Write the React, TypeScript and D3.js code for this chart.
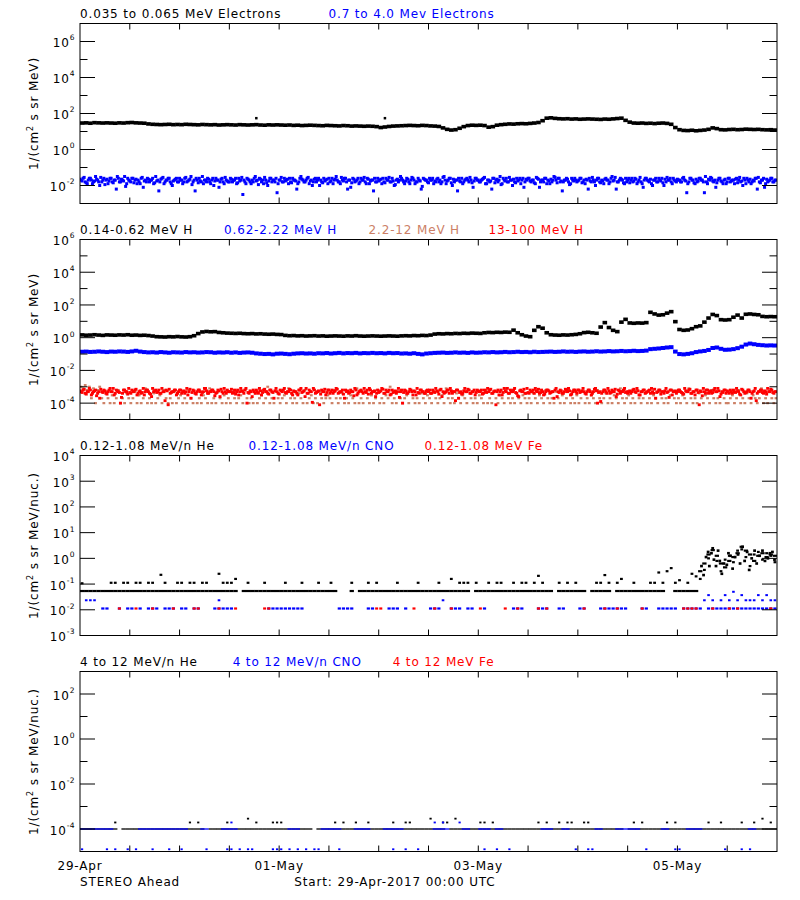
import React from "react";
import * as d3 from "d3";

// STEREO Ahead particle fluxes, 29-Apr-2017 .. 06-May-2017
// values are log10(flux); "_" marks an interval with no counts

const _ = null;

const START = new Date(Date.UTC(2017, 3, 29));
const END = new Date(Date.UTC(2017, 4, 6));

const BLACK = "#000000";
const BLUE = "#0000ff";
const RED = "#ff0000";
const SIENNA = "#cc8066";

// ---- panel 1: electrons (hourly / half-hourly) ----
const eLo = [
  1.47, 1.48, 1.46, 1.49, 1.48, 1.47, 1.48, 1.47, 1.46, 1.48, 1.47, 1.49, 1.5, 1.48, 1.47, 1.46,
  1.42, 1.4, 1.39, 1.38, 1.39, 1.4, 1.38, 1.39, 1.38, 1.4, 1.39, 1.38, 1.37, 1.39, 1.38,
  1.37, 1.38, 1.36, 1.37, 1.38, 1.37, 1.36, 1.38, 1.37, 1.36, 1.37, 1.38, 1.36, 1.35, 1.37, 1.36, 1.37, 1.36,
  1.35, 1.36, 1.34, 1.35, 1.33, 1.34, 1.35, 1.34, 1.33, 1.32, 1.34, 1.33, 1.32, 1.31, 1.33, 1.32, 1.3, 1.31, 1.3, 1.29, 1.3,
  1.29, 1.27, 1.22, 1.25, 1.28, 1.3, 1.31, 1.32,
  1.33, 1.34, 1.33, 1.32, 1.34, 1.33, 1.31, 1.3, 1.28,
  1.2, 1.12, 1.08, 1.1, 1.18, 1.27,
  1.33, 1.35, 1.34, 1.35, 1.33,
  1.24, 1.27,
  1.35, 1.38, 1.4, 1.42, 1.41, 1.43, 1.44, 1.43, 1.45,
  1.47, 1.5, 1.6,
  1.74, 1.76, 1.73, 1.71, 1.7, 1.71, 1.69, 1.7, 1.68, 1.69, 1.7, 1.69, 1.68, 1.67, 1.69, 1.68, 1.7, 1.72, 1.74,
  1.62, 1.52, 1.47, 1.46, 1.47, 1.45, 1.46, 1.44, 1.46, 1.47, 1.45,
  1.4, 1.22, 1.1,
  1.06, 1.05, 1.07, 1.04, 1.06, 1.08, 1.12, 1.2, 1.16, 1.1, 1.09, 1.11, 1.12, 1.1, 1.11, 1.13, 1.12, 1.11, 1.12, 1.1, 1.09, 1.1, 1.08,
];
const eLoSpikes: [number, number][] = [[42, 1.74], [73, 1.74]];

// two interleaved half-hourly samplings of the 0.7-4.0 MeV channel
const eHi = [
  -1.7, -1.6, -1.8, -1.9, -1.6, -1.7, -1.8, -1.5, -1.7, -2.0, -1.8, -1.6, -1.7, -1.9, -1.6, -1.8, -1.7, -2.2, -1.6, -1.8, -1.7, -1.5, -1.9, -1.7,
  -1.8, -1.6, -1.7, -1.9, -1.8, -1.6, -2.1, -1.7, -1.6, -1.8, -1.7, -1.9, -1.5, -1.7, -1.8, -1.6, -1.9, -1.7, -1.6, -1.8, -2.0, -1.7, -1.6, -1.8,
  -1.7, -1.9, -1.6, -1.8, -1.7, -1.5, -1.8, -2.3, -1.7, -1.6, -1.8, -1.9, -1.7, -1.6, -1.8, -1.7, -2.0, -1.6, -1.7, -1.8, -1.6, -1.9, -1.7, -1.8,
  -1.6, -1.8, -1.7, -1.9, -1.6, -1.7, -2.5, -1.8, -1.6, -1.7, -1.9, -1.8, -1.5, -1.7, -1.6, -1.8, -1.9, -1.7, -2.0, -1.6, -1.8, -1.7, -1.6, -1.9,
  -1.7, -1.8, -1.6, -1.7, -1.9, -1.8, -1.6, -1.7, -2.2, -1.8, -1.5, -1.7, -1.8, -1.6, -1.9, -1.7, -1.8, -1.6, -1.7, -2.0, -1.8, -1.6, -1.7, -1.9,
  -1.8, -1.6, -1.7, -1.5, -1.8, -1.9, -1.7, -1.6, -1.8, -1.7, -2.1, -1.6, -1.8, -1.7, -1.9, -1.6, -1.7, -1.8, -1.6, -1.9, -1.7, -2.3, -1.8, -1.6,
  -1.7, -1.9, -1.8, -1.6, -1.7, -1.8, -1.6, -2.0, -1.7, -1.8, -1.5, -1.7, -1.9, -1.6, -1.8, -1.7, -1.6, -1.9, -1.8, -1.7, -2.2, -1.6, -1.7, -1.8,
  -1.6, -1.7, -1.9, -1.8, -1.6, -1.7, -1.8, -1.5, -1.9, -1.7, -1.6, -2.0, -1.8, -1.7, -1.6, -1.8, -1.9, -1.7, -1.6, -1.8, -1.7, -2.1, -1.6, -1.7,
  -1.8, -1.7, -1.6, -1.9, -1.7, -1.8, -2.2, -1.6, -1.7, -1.8, -1.5, -1.9, -1.7, -1.6, -1.8, -1.7, -2.0, -1.8, -1.6, -1.7, -1.9, -1.6, -1.8, -1.7,
  -1.6, -1.8, -1.7, -1.9, -1.6, -2.1, -1.7, -1.8, -1.6, -1.7, -1.9, -1.8, -1.5, -1.7, -1.6, -1.8, -2.3, -1.7, -1.6, -1.8, -1.9, -1.7, -1.6, -1.8,
  -1.7, -1.6, -1.8, -1.9, -1.7, -1.6, -1.8, -1.7, -2.0, -1.6, -1.8, -1.7, -1.9, -1.6, -1.7, -1.8, -1.5, -1.7, -2.2, -1.8, -1.6, -1.7, -1.9, -1.8,
  -1.6, -1.7, -1.8, -1.6, -1.9, -1.7, -1.8, -2.1, -1.6, -1.7, -1.8, -1.9, -1.7, -1.6, -1.8, -1.7, -1.6, -2.0, -1.8, -1.7, -1.6, -1.9, -1.7, -1.8,
  -1.7, -1.8, -1.6, -1.7, -2.4, -1.8, -1.6, -1.7, -1.9, -1.8, -1.6, -1.7, -1.8, -1.5, -1.9, -1.7, -1.6, -1.8, -2.1, -1.7, -1.6, -1.8, -1.7, -1.9,
  -1.6, -1.8, -1.7, -1.9, -1.6, -1.7, -1.8, -2.0, -1.7, -1.6, -1.8, -1.9, -1.7, -1.6, -2.2, -1.8, -1.7, -1.6, -1.9, -1.8, -1.7, -1.6, -1.8, -1.7,
];
const eHiB = [
  -1.65, -1.75, -1.55, -1.85, -1.7, -1.6, -1.9, -1.75, -1.65, -1.8, -1.55, -1.7, -1.95, -1.65, -1.75, -1.6, -1.85, -1.7, -1.5, -1.8, -1.65, -1.75, -2.05, -1.6,
  -1.75, -1.6, -1.85, -1.65, -1.7, -1.9, -1.55, -1.75, -1.8, -1.65, -1.7, -1.6, -1.85, -1.75, -2.3, -1.65, -1.55, -1.8, -1.7, -1.6, -1.9, -1.75, -1.65, -1.8,
  -1.6, -1.7, -1.8, -1.55, -1.75, -1.65, -1.95, -1.7, -1.6, -1.85, -1.75, -1.5, -1.7, -1.8, -1.65, -1.9, -1.6, -1.75, -1.7, -2.1, -1.65, -1.8, -1.55, -1.75,
  -1.8, -1.65, -1.7, -1.6, -1.85, -1.75, -1.55, -1.7, -1.9, -1.65, -1.8, -1.7, -1.6, -1.75, -1.95, -1.65, -1.7, -1.55, -1.85, -1.75, -1.6, -1.7, -1.8, -2.4,
  -1.7, -1.55, -1.8, -1.75, -1.65, -1.6, -1.85, -1.7, -1.75, -1.9, -1.6, -1.65, -1.8, -1.7, -1.55, -1.75, -2.0, -1.65, -1.8, -1.6, -1.7, -1.85, -1.75, -1.65,
  -1.6, -1.75, -1.9, -1.65, -1.7, -1.8, -1.55, -1.75, -1.6, -2.2, -1.7, -1.85, -1.65, -1.75, -1.6, -1.8, -1.7, -1.55, -1.9, -1.65, -1.75, -1.7, -1.6, -1.8,
  -1.75, -1.65, -1.6, -1.85, -1.7, -1.55, -1.8, -1.75, -1.95, -1.65, -1.7, -1.6, -1.8, -1.75, -1.65, -1.9, -1.55, -1.7, -1.8, -1.6, -1.75, -2.05, -1.65, -1.7,
  -1.85, -1.7, -1.6, -1.75, -1.65, -1.8, -1.9, -1.55, -1.7, -1.75, -1.6, -1.85, -1.65, -1.7, -2.3, -1.75, -1.6, -1.8, -1.65, -1.7, -1.55, -1.85, -1.75, -1.6,
  -1.7, -1.8, -1.65, -1.55, -1.9, -1.7, -1.75, -1.6, -1.85, -1.65, -1.7, -1.95, -1.6, -1.75, -1.8, -1.55, -1.7, -1.65, -1.85, -1.75, -1.6, -1.7, -2.1, -1.65,
  -1.6, -1.75, -1.7, -1.85, -1.55, -1.65, -1.8, -1.7, -1.6, -1.9, -1.75, -1.65, -1.7, -1.55, -1.85, -1.6, -1.75, -1.8, -1.7, -1.65, -1.95, -1.6, -1.75, -1.7,
  -1.75, -1.6, -1.85, -1.7, -1.65, -2.2, -1.75, -1.55, -1.8, -1.7, -1.6, -1.85, -1.75, -1.65, -1.7, -1.9, -1.6, -1.75, -1.55, -1.8, -1.7, -1.65, -1.85, -1.6,
  -1.7, -1.85, -1.6, -1.75, -1.65, -1.8, -1.55, -1.9, -1.7, -1.6, -1.75, -1.65, -2.0, -1.7, -1.8, -1.6, -1.75, -1.85, -1.65, -1.55, -1.7, -1.8, -1.6, -1.75,
  -1.65, -1.7, -1.8, -1.55, -1.75, -1.9, -1.6, -1.7, -1.85, -1.65, -1.75, -1.6, -1.7, -2.4, -1.8, -1.65, -1.55, -1.75, -1.7, -1.85, -1.6, -1.75, -1.9, -1.65,
  -1.8, -1.6, -1.75, -1.7, -1.65, -1.85, -1.55, -1.75, -1.6, -1.9, -1.7, -1.65, -1.8, -1.75, -1.6, -1.55, -1.85, -1.7, -2.1, -1.65, -1.75, -1.6, -1.8, -1.7,
];

// ---- panel 2: protons ----
const hLo = [
  0.17, 0.15, 0.16, 0.18, 0.16, 0.14, 0.17, 0.16, 0.15, 0.17, 0.16, 0.18, 0.15, 0.16, 0.14, 0.15, 0.13, 0.1,
  0.06, 0.05, 0.04, 0.06, 0.05, 0.07, 0.05, 0.04, 0.06, 0.12,
  0.25, 0.35, 0.38, 0.36, 0.37,
  0.32, 0.3, 0.28, 0.27, 0.26, 0.27, 0.25, 0.24, 0.25, 0.23, 0.24, 0.22, 0.21, 0.22, 0.2, 0.19,
  0.14, 0.12, 0.13, 0.11, 0.12, 0.1, 0.11, 0.12, 0.1, 0.11, 0.09, 0.1, 0.11, 0.1, 0.09, 0.11, 0.1, 0.12, 0.1, 0.09, 0.1, 0.11, 0.1, 0.09, 0.1, 0.11, 0.1, 0.09, 0.11,
  0.12, 0.11, 0.13, 0.12, 0.14, 0.13, 0.16,
  0.22, 0.24, 0.23, 0.25, 0.24, 0.26, 0.25, 0.27, 0.26, 0.28, 0.27, 0.26,
  0.3, 0.32, 0.31, 0.33, 0.32, 0.34, 0.33,
  0.46, 0.3, 0.18, 0.1, 0.06, 0.45, 0.67, 0.58, 0.3, 0.18,
  0.16, 0.15, 0.17, 0.16, 0.18, 0.2, 0.24, 0.31,
  0.33, 0.3, 0.27, 0.65, 0.92, 0.62, 0.45, 0.37, 0.95, 1.12, 0.9, 0.88, 0.9, 0.89, 0.92, 1.55,
  1.45, 1.38, 1.4, 1.5, 1.59, 0.98, 0.5, 0.45, 0.47, 0.55, 0.67, 0.72, 0.95, 1.2, 1.42, 1.35,
  1.1, 1.08, 1.1, 1.25, 1.38, 1.2, 1.43, 1.45, 1.42, 1.4, 1.3, 1.28, 1.29, 1.28,
];

const hMid = [
  -0.86, -0.85, -0.87, -0.86, -0.84, -0.86, -0.88, -0.85, -0.86, -0.84, -0.85, -0.87, -0.84, -0.8,
  -0.85, -0.88, -0.9, -0.89, -0.91, -0.88, -0.9, -0.92, -0.89, -0.9, -0.91, -0.88, -0.9, -0.89,
  -0.91, -0.9, -0.88, -0.89, -0.92, -0.9, -0.91, -0.89, -0.92, -0.9, -0.93, -0.91, -0.9, -0.92,
  -0.96, -0.98, -1.0, -0.99, -1.02, -0.98, -0.97, -0.99, -1.01, -0.98, -0.96, -0.95, -0.97, -0.96, -0.98,
  -0.95, -0.96, -0.94, -0.97, -0.95, -0.93, -0.96, -0.94, -0.95, -0.93, -0.96, -0.94, -0.95, -0.93,
  -0.95, -0.94, -0.96, -0.93, -0.95, -0.94, -0.97, -0.96, -0.98, -0.95, -0.99, -1.02, -0.97, -0.95, -0.93,
  -0.92, -0.91, -0.93, -0.92, -0.9, -0.92, -0.91, -0.93, -0.9, -0.92, -0.91, -0.89, -0.9,
  -0.88, -0.9, -0.89, -0.87, -0.89, -0.88, -0.86, -0.88, -0.87, -0.89, -0.86, -0.88, -0.87,
  -0.86, -0.85, -0.87, -0.86, -0.84, -0.86, -0.85, -0.87, -0.85, -0.84, -0.86, -0.85, -0.83,
  -0.85, -0.84, -0.82, -0.84, -0.83, -0.81, -0.83, -0.82, -0.8, -0.82, -0.81, -0.79,
  -0.7, -0.68, -0.66, -0.63, -0.6, -0.58,
  -0.85, -1.0, -1.02, -0.99, -0.95,
  -0.88, -0.84, -0.81, -0.75, -0.63,
  -0.6, -0.68, -0.74, -0.73, -0.7,
  -0.64, -0.55, -0.42, -0.36, -0.4, -0.44, -0.46, -0.48, -0.47, -0.48,
];

const hHi = [
  -3.0, -3.1, -2.9, -3.2, -3.0, -3.7, -3.1, -4.0, -3.2, -3.0, -3.7, -4.0, -3.3, -3.7, -4.0, -3.52, -4.0, -3.7, -3.2, -4.0, -3.7, -4.0, -3.4, -3.7,
  -4.0, -3.7, -3.3, -4.0, -3.52, -4.0, -3.7, -3.1, -4.0, -3.7, -4.0, -3.4, -4.0, -3.7, -3.52, -4.0, -3.2, -3.7, -4.0, -3.7, -4.0, -3.3, -4.0, -3.7,
  -3.52, -4.0, -3.7, -4.0, -3.2, -3.7, -4.0, -3.4, -4.0, -3.7, -4.0, -3.52, -3.7, -4.0, -3.1, -4.0, -3.7, -4.0, -3.3, -3.7, -4.0, -3.52, -4.0, -3.7,
  -4.0, -3.3, -3.7, -4.0, -3.7, -3.52, -4.0, -3.2, -3.7, -4.0, -3.7, -4.0, -3.4, -4.0, -3.7, -3.52, -4.0, -3.7, -3.0, -4.0, -3.7, -4.0, -3.3, -3.7,
  -4.0, -3.7, -3.52, -4.0, -3.1, -3.7, -4.0, -3.7, -4.0, -3.4, -3.7, -4.0, -3.2, -4.0, -3.7, -3.52, -4.0, -3.7, -4.0, -3.3, -3.7, -4.0, -3.7, -3.52,
  -3.7, -4.0, -3.2, -3.7, -4.0, -3.7, -3.4, -4.0, -3.7, -4.0, -3.52, -3.7, -4.0, -3.1, -4.0, -3.7, -4.0, -3.3, -3.7, -4.0, -3.52, -4.0, -3.7, -3.2,
  -4.0, -3.7, -4.0, -3.52, -3.7, -3.0, -4.0, -3.7, -4.0, -3.3, -3.7, -4.0, -3.7, -3.52, -4.0, -3.2, -3.7, -4.0, -3.7, -4.0, -3.4, -3.7, -4.0, -3.52,
  -3.7, -4.0, -3.3, -3.7, -4.0, -3.7, -3.52, -4.0, -3.1, -3.7, -4.0, -3.7, -4.0, -3.4, -3.7, -4.0, -3.52, -3.7, -4.0, -3.2, -3.7, -4.0, -3.7, -4.0,
  -3.52, -3.7, -4.0, -3.2, -4.0, -3.7, -4.0, -3.3, -3.7, -4.0, -3.52, -3.7, -4.0, -3.1, -3.7, -4.0, -3.7, -4.0, -3.4, -3.7, -4.0, -3.52, -3.7, -4.0,
  -3.7, -4.0, -3.4, -3.7, -4.0, -3.52, -3.7, -4.0, -3.2, -3.7, -4.0, -3.7, -4.0, -3.3, -3.7, -4.0, -3.52, -4.0, -3.7, -3.1, -4.0, -3.7, -4.0, -3.52,
  -4.0, -3.7, -3.3, -4.0, -3.7, -4.0, -3.52, -3.7, -4.0, -3.2, -3.7, -4.0, -3.7, -3.4, -4.0, -3.7, -4.0, -3.52, -3.7, -4.0, -3.1, -3.7, -4.0, -3.7,
  -3.52, -4.0, -3.7, -4.0, -3.2, -3.7, -4.0, -3.7, -3.4, -4.0, -3.7, -4.0, -3.52, -3.7, -4.0, -3.3, -3.7, -4.0, -3.7, -4.0, -3.52, -3.2, -3.7, -4.0,
  -3.7, -4.0, -3.52, -3.7, -4.0, -3.1, -3.7, -4.0, -3.7, -4.0, -3.4, -3.7, -4.0, -3.52, -3.7, -4.0, -3.2, -3.7, -4.0, -3.7, -4.0, -3.3, -3.7, -4.0,
  -4.0, -3.7, -3.52, -4.0, -3.7, -3.2, -4.0, -3.7, -4.0, -3.4, -3.7, -4.0, -3.52, -3.7, -4.0, -3.7, -3.1, -4.0, -3.7, -4.0, -3.3, -3.7, -4.0, -3.7,
];

// two interleaved half-hourly samplings of the 13-100 MeV channel
const hTop = [
  -3.3, -3.2, -3.4, -3.3, -3.1, -3.5, -3.3, -3.2, -3.4, -3.7, -3.3, -3.2, -3.4, -3.3, -3.1, -3.3, -3.5, -3.2, -3.3, -4.0, -3.4, -3.2, -3.3, -3.1,
  -3.4, -3.3, -3.2, -3.5, -3.3, -3.4, -3.1, -3.3, -3.2, -3.4, -3.6, -3.3, -3.2, -3.3, -3.4, -3.1, -3.3, -3.2, -4.1, -3.4, -3.3, -3.2, -3.5, -3.3,
  -3.2, -3.3, -3.4, -3.1, -3.3, -3.7, -3.2, -3.4, -3.3, -3.2, -3.5, -3.3, -3.1, -3.4, -3.3, -3.2, -3.3, -3.4, -3.2, -3.6, -3.3, -3.1, -3.4, -3.3,
  -3.3, -3.4, -3.2, -3.3, -3.5, -3.1, -3.3, -3.2, -4.0, -3.4, -3.3, -3.2, -3.4, -3.3, -3.1, -3.5, -3.2, -3.3, -3.4, -3.2, -3.3, -3.7, -3.1, -3.4,
  -3.2, -3.3, -3.1, -3.4, -3.3, -3.2, -3.5, -3.3, -3.4, -3.2, -3.1, -3.3, -3.6, -3.4, -3.2, -3.3, -3.1, -3.4, -3.3, -4.1, -3.2, -3.3, -3.5, -3.2,
  -3.4, -3.2, -3.3, -3.1, -3.4, -3.3, -3.2, -3.7, -3.3, -3.4, -3.2, -3.3, -3.1, -3.5, -3.3, -3.2, -3.4, -3.3, -3.2, -3.1, -3.4, -3.3, -3.6, -3.2,
  -3.3, -3.1, -3.4, -3.2, -3.3, -3.5, -3.2, -3.3, -3.4, -3.1, -3.3, -4.0, -3.2, -3.4, -3.3, -3.2, -3.5, -3.3, -3.1, -3.4, -3.2, -3.3, -3.4, -3.2,
  -3.2, -3.4, -3.3, -3.1, -3.3, -3.2, -3.6, -3.4, -3.3, -3.2, -3.1, -3.4, -3.3, -3.2, -3.7, -3.3, -3.4, -3.1, -3.3, -3.2, -3.4, -3.3, -3.5, -3.2,
  -3.3, -3.2, -3.4, -3.3, -3.1, -3.2, -3.4, -3.3, -4.1, -3.2, -3.3, -3.5, -3.1, -3.3, -3.4, -3.2, -3.3, -3.1, -3.4, -3.6, -3.2, -3.3, -3.4, -3.1,
  -3.4, -3.3, -3.2, -3.1, -3.3, -3.4, -3.2, -3.5, -3.3, -3.2, -3.4, -3.3, -3.7, -3.1, -3.3, -3.2, -3.4, -3.3, -3.2, -3.1, -3.5, -3.3, -3.2, -3.4,
  -3.2, -3.3, -3.1, -3.4, -3.3, -3.2, -3.5, -3.3, -3.1, -4.0, -3.3, -3.4, -3.2, -3.3, -3.1, -3.4, -3.2, -3.3, -3.6, -3.2, -3.4, -3.3, -3.1, -3.3,
  -3.3, -3.4, -3.2, -3.3, -3.1, -3.5, -3.3, -3.2, -3.4, -3.3, -3.2, -3.1, -3.4, -3.7, -3.3, -3.2, -3.3, -3.4, -3.1, -3.3, -3.2, -3.5, -3.3, -3.4,
  -3.2, -3.3, -3.4, -3.1, -3.3, -3.2, -3.4, -3.3, -3.5, -3.2, -4.1, -3.3, -3.1, -3.4, -3.2, -3.3, -3.4, -3.2, -3.3, -3.1, -3.6, -3.3, -3.2, -3.4,
  -3.3, -3.2, -3.4, -3.3, -3.1, -3.3, -3.5, -3.2, -3.4, -3.3, -3.2, -3.7, -3.3, -3.1, -3.4, -3.3, -3.2, -3.4, -3.3, -3.1, -3.3, -3.2, -3.4, -3.3,
];
const hTopB = [
  -3.25, -3.35, -3.15, -3.45, -3.3, -3.2, -3.4, -3.25, -3.55, -3.3, -3.15, -3.35, -3.25, -3.45, -3.2, -3.3, -3.1, -3.4, -3.25, -3.35, -3.65, -3.2, -3.3, -3.45,
  -3.35, -3.2, -3.3, -3.15, -3.4, -3.25, -3.35, -3.5, -3.2, -3.3, -3.45, -3.1, -3.25, -3.35, -3.2, -3.4, -3.3, -3.85, -3.25, -3.15, -3.35, -3.3, -3.2, -3.4,
  -3.2, -3.4, -3.25, -3.3, -3.5, -3.15, -3.35, -3.25, -3.45, -3.2, -3.3, -3.35, -3.1, -3.25, -3.4, -3.3, -3.2, -3.55, -3.35, -3.25, -3.15, -3.4, -3.3, -3.2,
  -3.3, -3.15, -3.35, -3.45, -3.2, -3.3, -3.25, -3.4, -3.1, -3.35, -3.25, -3.6, -3.3, -3.2, -3.4, -3.25, -3.35, -3.15, -3.3, -3.45, -3.2, -3.35, -3.25, -3.3,
  -3.45, -3.25, -3.2, -3.35, -3.3, -3.15, -3.4, -3.25, -3.3, -3.5, -3.2, -3.35, -3.25, -3.1, -3.4, -3.3, -3.95, -3.2, -3.35, -3.25, -3.45, -3.3, -3.15, -3.35,
  -3.2, -3.3, -3.4, -3.25, -3.15, -3.35, -3.3, -3.45, -3.2, -3.25, -3.35, -3.3, -3.55, -3.2, -3.4, -3.25, -3.3, -3.1, -3.35, -3.45, -3.2, -3.3, -3.25, -3.4,
  -3.35, -3.25, -3.15, -3.4, -3.3, -3.2, -3.45, -3.35, -3.25, -3.3, -3.65, -3.2, -3.35, -3.25, -3.4, -3.15, -3.3, -3.25, -3.5, -3.35, -3.2, -3.3, -3.4, -3.25,
  -3.3, -3.4, -3.2, -3.35, -3.25, -3.45, -3.15, -3.3, -3.35, -3.2, -3.4, -3.25, -3.3, -3.85, -3.2, -3.35, -3.45, -3.25, -3.3, -3.15, -3.4, -3.3, -3.2, -3.35,
  -3.25, -3.3, -3.45, -3.2, -3.35, -3.3, -3.15, -3.4, -3.25, -3.3, -3.5, -3.2, -3.35, -3.25, -3.1, -3.4, -3.3, -3.2, -3.35, -3.55, -3.25, -3.3, -3.15, -3.4,
  -3.35, -3.2, -3.3, -3.4, -3.25, -3.15, -3.35, -3.3, -3.45, -3.2, -3.25, -3.35, -3.3, -3.2, -3.6, -3.35, -3.25, -3.4, -3.15, -3.3, -3.25, -3.45, -3.2, -3.3,
  -3.2, -3.35, -3.25, -3.3, -3.45, -3.2, -3.3, -3.4, -3.15, -3.25, -3.35, -3.9, -3.3, -3.2, -3.4, -3.25, -3.35, -3.3, -3.15, -3.45, -3.25, -3.3, -3.2, -3.35,
  -3.4, -3.25, -3.3, -3.15, -3.35, -3.25, -3.5, -3.3, -3.2, -3.35, -3.25, -3.4, -3.3, -3.15, -3.35, -3.2, -3.45, -3.3, -3.25, -3.35, -3.65, -3.2, -3.3, -3.25,
  -3.3, -3.2, -3.35, -3.45, -3.25, -3.3, -3.15, -3.4, -3.3, -3.2, -3.35, -3.25, -3.55, -3.3, -3.2, -3.4, -3.25, -3.35, -3.1, -3.3, -3.25, -3.45, -3.35, -3.2,
  -3.25, -3.4, -3.3, -3.2, -3.35, -3.25, -3.45, -3.15, -3.3, -3.35, -3.2, -3.3, -3.4, -3.25, -3.85, -3.3, -3.2, -3.35, -3.25, -3.45, -3.3, -3.15, -3.35, -3.3,
];

// ---- panel 3: 0.12-1.08 MeV/n heavy ions ----
const C1 = -1.27; // one-count level of He
const he3 = [
  C1, C1, C1, C1, C1, C1, C1, C1, C1, C1, C1, C1, C1, C1, C1, C1, C1, C1, C1, C1, C1, C1, C1, C1,
  C1, C1, C1, C1, C1, C1, C1, C1, C1, C1, C1, C1, C1, C1, _, C1, C1, C1, C1, C1, C1, C1, C1, C1,
  C1, C1, C1, C1, C1, C1, C1, C1, C1, C1, C1, C1, C1, C1, _, _, _, C1, _, C1, C1, C1, C1, C1,
  C1, C1, C1, C1, C1, C1, C1, C1, C1, C1, C1, C1, C1, C1, C1, C1, C1, C1, C1, C1, C1, C1, _, C1,
  C1, C1, C1, C1, C1, C1, C1, C1, C1, C1, C1, C1, C1, C1, C1, C1, C1, C1, _, C1, C1, C1, C1, C1,
  C1, C1, _, C1, C1, C1, C1, C1, _, C1, C1, C1, C1, C1, C1, C1, C1, C1, C1, C1, C1, _, _, C1,
  C1, C1, C1, C1, C1, -0.5, -0.2, 0.15, 0.32, 0.1, -0.2, -0.35, -0.1, 0.05, 0.2, 0.45, 0.3, 0.15, -0.1, 0.1, 0.2, 0.05, 0.15, 0.1,
];
const he3Upper = [
  -0.97, _, _, _, _, _, _, -0.95, -0.95, _, -0.95, -0.95, _, -0.95, -0.95, _, -0.95, -0.95, _, -0.64, -0.95, _, _, -0.95,
  -0.95, _, -0.95, -0.95, _, -0.95, -0.95, _, _, -0.6, -0.95, -0.95, -0.95, -0.8, _, _, -0.95, _, _, _, -0.95, _, _, _,
  _, -0.95, _, _, _, -0.95, _, _, _, -0.95, _, _, -0.95, _, _, _, _, -0.95, _, _, _, -0.95, _, -0.95,
  _, _, _, _, -0.95, _, _, _, _, -0.95, _, _, _, _, -0.95, _, _, -0.8, _, -0.95, -0.95, -0.95, _, -0.95,
  _, _, -0.95, _, -0.95, -0.95, _, _, -0.95, _, -0.95, -0.95, _, -0.95, -0.68, -0.95, _, _, _, -0.95, _, -0.95, _, -0.95,
  _, _, _, _, -0.95, -0.95, -0.65, -0.95, _, -0.95, -0.8, _, _, -0.95, _, _, _, -0.95, -0.95, -0.55, -0.95, -0.5, -0.38, -0.95,
  -0.85, _, -0.95, -0.6, -0.7, -0.8, -0.45, 0.0, 0.4, -0.1, -0.5, -0.05, 0.1, -0.15, 0.3, 0.35, 0.05, -0.3, 0.15, 0.25, -0.05, 0.2, 0.1, -0.15,
];
// extra He samples during the 05-May enhancement: [hour, log10 flux]
const he3Event: [number, number][] = [
  [149.3, -0.3], [149.8, -0.65], [150.4, 0.05], [150.9, 0.25], [151.2, -0.3], [151.7, 0.2], [152.3, -0.05],
  [152.8, -0.3], [153.3, 0.3], [153.7, -0.1], [154.2, -0.6], [154.7, -0.2], [155.4, -0.25], [155.8, 0.2],
  [156.3, 0.1], [156.8, -0.4], [157.4, 0.05], [158.1, 0.15], [158.6, -0.2], [159.2, 0.45], [159.7, -0.1],
  [160.3, 0.25], [160.8, -0.45], [161.4, 0.0], [162.1, 0.3], [162.6, -0.2], [163.3, 0.1], [164.0, 0.3],
  [164.6, -0.1], [165.3, 0.0], [165.8, 0.2], [166.4, 0.25], [166.9, -0.05],
];
const cno3Level = -1.95;
const cno3Hours = [
  5, 6, 9, 11, 12, 14, 16, 17, 18, 20, 21, 22, 24, 25, 27, 28, 32, 33, 34, 35, 36, 45, 46, 47, 48, 49, 50, 51, 52, 53,
  62, 63, 64, 65, 69, 70, 74, 75, 76, 78, 84, 85, 86, 89, 90, 91, 93, 94, 97, 104, 105, 106, 110, 111, 112, 115, 116,
  120, 121, 125, 126, 127, 128, 129, 130, 131, 135, 136, 139, 140, 141, 142, 143, 145, 146, 147, 148, 149,
  151, 152, 153, 154, 155, 156, 157, 158, 159, 160, 161, 162, 163, 164, 165, 166, 167,
];
const cno3Upper: [number, number][] = [
  [1, -1.63], [2, -1.63], [3, -1.63], [33, -1.63], [87, -1.63], [150, -1.63], [151, -1.43], [152, -1.63],
  [154, -1.63], [155, -1.43], [156, -1.63], [157, -1.3], [158, -1.63], [159, -1.43], [160, -1.63], [161, -1.63],
  [162, -1.63], [163, -1.43], [164, -1.63], [165, -1.43], [166, -1.63], [167, -1.63],
];
const fe3Level = -1.95;
const fe3Hours = [
  9, 13, 17, 22, 27, 28, 33, 37, 44, 45, 71, 72, 80, 85, 89, 96, 102, 105, 110, 112, 121, 126, 129, 135,
  145, 146, 147, 148, 152, 156, 158, 166,
];

// ---- panel 4: 4-12 MeV/n heavy ions ----
const L4 = -4.0; // one-count level
const he4 = [
  L4, L4, L4, L4, L4, L4, L4, L4, L4, _, L4, L4, L4, L4, L4, L4, L4, L4, L4, L4, L4, L4, L4, L4,
  L4, L4, L4, L4, L4, L4, _, L4, L4, L4, L4, L4, L4, L4, L4, L4, L4, L4, L4, L4, L4, L4, L4, L4,
  L4, L4, L4, L4, L4, L4, L4, L4, _, L4, L4, L4, L4, L4, L4, L4, L4, L4, L4, L4, L4, L4, L4, L4,
  L4, L4, L4, L4, L4, L4, L4, L4, L4, L4, L4, L4, L4, L4, L4, L4, _, L4, L4, L4, L4, L4, L4, L4,
  L4, L4, L4, L4, L4, L4, L4, L4, L4, L4, L4, L4, L4, L4, L4, L4, L4, L4, L4, L4, L4, L4, L4, L4,
  L4, L4, L4, L4, L4, L4, L4, L4, L4, L4, L4, _, L4, L4, L4, L4, L4, L4, L4, L4, L4, L4, L4, L4,
  L4, L4, L4, L4, L4, L4, L4, L4, L4, L4, L4, L4, L4, L4, L4, L4, L4, L4, L4, L4, L4, L4, L4, L4,
];
const he4Upper: [number, number][] = [
  [8, -3.71], [26, -3.71], [28, -3.71], [35, -3.71], [40, -3.54], [42, -3.71], [46, -3.71], [47, -3.71], [48, -3.71],
  [61, -3.71], [63, -3.71], [66, -3.71], [69, -3.71], [75, -3.71], [78, -3.71], [79, -3.71], [84, -3.54], [87, -3.71],
  [88, -3.71], [90, -3.54], [96, -3.71], [97, -3.71], [99, -3.71], [110, -3.71], [112, -3.71], [115, -3.71], [117, -3.71],
  [118, -3.71], [121, -3.71], [122, -3.71], [133, -3.71], [135, -3.71], [141, -3.71], [143, -3.71], [151, -3.71],
  [154, -3.71], [159, -3.71], [162, -3.71], [164, -3.54], [166, -3.71],
];
const cno4Hours = [
  0, 1, 2, 3, 4, 5, 6, 7, 14, 15, 16, 17, 18, 19, 20, 21, 22, 23, 24, 25, 29, 30, 34, 35, 36, 37, 50, 51, 52,
  58, 59, 60, 61, 62, 66, 67, 68, 69, 73, 74, 75, 76, 77, 85, 86, 87, 88, 92, 93, 96, 97, 98, 100, 101,
  111, 112, 113, 116, 117, 124, 125, 129, 130, 131, 132, 133, 134, 140, 141, 146, 147, 148, 149, 161, 162,
];
const cno4LowLevel = -4.9;
const cno4LowHours = [
  0, 6, 8, 11, 13, 17, 21, 24, 30, 35, 36, 38, 40, 41, 46, 47, 48, 50, 52, 54, 56, 57, 62, 75, 78, 81,
  97, 100, 103, 119, 122, 123, 136, 143, 144, 155, 159, 161,
];
const cno4Upper: [number, number][] = [[36, -3.71], [85, -3.71], [87, -3.71], [91, -3.71]];

// ---- layout ----
const W = 800;
const H = 900;
const LEFT = 80;
const RIGHT = 777;
const PANEL_TOP = [23.5, 239.5, 455.5, 671.5];
const PANEL_H = 180;
const FONT = "DejaVu Sans";

type Pt = { hour: number; log: number };
type Layer = { pts: Pt[]; color: string; w: number; h: number };

// sample i of a regular series sits at i*step + offset hours
const fromSeries = (vals: (number | null)[], step: number, offset = step / 2): Pt[] =>
  vals.flatMap((v, i) => (v == null ? [] : [{ hour: i * step + offset, log: v }]));
const fromHours = (hours: number[], log: number): Pt[] => hours.map((h) => ({ hour: h + 0.5, log }));
const fromPairs = (pairs: [number, number][]): Pt[] => pairs.map(([h, log]) => ({ hour: h + 0.5, log }));

const PANELS = [
  {
    domain: [1e-3, 1e7],
    major: [-2, 0, 2, 4, 6],
    minor: [-1, 1, 3, 5],
    unit: "MeV)",
    legend: [
      { text: "0.035 to 0.065 MeV Electrons", color: BLACK, x: 80 },
      { text: "0.7 to 4.0 Mev Electrons", color: BLUE, x: 328.5 },
    ],
    layers: [
      { pts: fromSeries(eLo, 1), color: BLACK, w: 4.6, h: 3.6 },
      { pts: fromPairs(eLoSpikes), color: BLACK, w: 2.5, h: 2.5 },
      { pts: fromSeries(eHi, 0.5), color: BLUE, w: 3, h: 3 },
      { pts: fromSeries(eHiB, 0.5, 0), color: BLUE, w: 3, h: 3 },
    ] as Layer[],
  },
  {
    domain: [1e-5, 1e6],
    major: [-4, -2, 0, 2, 4, 6],
    minor: [-3, -1, 1, 3, 5],
    unit: "MeV)",
    legend: [
      { text: "0.14-0.62 MeV H", color: BLACK, x: 80 },
      { text: "0.62-2.22 MeV H", color: BLUE, x: 224 },
      { text: "2.2-12 MeV H", color: SIENNA, x: 368.5 },
      { text: "13-100 MeV H", color: RED, x: 488.5 },
    ],
    layers: [
      { pts: fromSeries(hLo, 1), color: BLACK, w: 4.6, h: 3.6 },
      { pts: fromSeries(hMid, 1), color: BLUE, w: 4.6, h: 4 },
      { pts: fromSeries(hHi, 0.5), color: SIENNA, w: 2.8, h: 2.2 },
      { pts: fromSeries(hTop, 0.5), color: RED, w: 3, h: 2.8 },
      { pts: fromSeries(hTopB, 0.5, 0), color: RED, w: 3, h: 2.8 },
    ] as Layer[],
  },
  {
    domain: [1e-3, 1e4],
    major: [-3, -2, -1, 0, 1, 2, 3, 4],
    minor: [],
    unit: "MeV/nuc.)",
    legend: [
      { text: "0.12-1.08 MeV/n He", color: BLACK, x: 80 },
      { text: "0.12-1.08 MeV/n CNO", color: BLUE, x: 248.5 },
      { text: "0.12-1.08 MeV Fe", color: RED, x: 424.5 },
    ],
    layers: [
      { pts: fromSeries(he3, 1), color: BLACK, w: 4.3, h: 2.2 },
      { pts: fromSeries(he3Upper, 1), color: BLACK, w: 2.8, h: 2.2 },
      { pts: fromPairs(he3Event), color: BLACK, w: 2.8, h: 2.6 },
      { pts: fromHours(cno3Hours, cno3Level), color: BLUE, w: 3.2, h: 2.2 },
      { pts: fromPairs(cno3Upper), color: BLUE, w: 2.6, h: 2 },
      { pts: fromHours(fe3Hours, fe3Level), color: RED, w: 3, h: 2.2 },
    ] as Layer[],
  },
  {
    domain: [1e-5, 1e3],
    major: [-4, -2, 0, 2],
    minor: [-3, -1, 1],
    unit: "MeV/nuc.)",
    legend: [
      { text: "4 to 12 MeV/n He", color: BLACK, x: 80 },
      { text: "4 to 12 MeV/n CNO", color: BLUE, x: 232.7 },
      { text: "4 to 12 MeV Fe", color: RED, x: 392.7 },
    ],
    layers: [
      { pts: fromSeries(he4, 1), color: BLACK, w: 4.3, h: 1.3 },
      { pts: fromHours(cno4Hours, L4), color: BLUE, w: 4.3, h: 1.3 },
      { pts: fromPairs(he4Upper), color: BLACK, w: 2.2, h: 1.8 },
      { pts: fromPairs(cno4Upper), color: BLUE, w: 2.2, h: 1.8 },
      { pts: fromHours(cno4LowHours, cno4LowLevel), color: BLUE, w: 2.2, h: 1.8 },
    ] as Layer[],
  },
];

export default function App() {
  const x = d3.scaleUtc().domain([START, END]).range([LEFT, RIGHT]);
  const hourDate = (h: number) => d3.utcMinute.offset(START, Math.round(h * 60));
  const xTicks = d3.utcHour.every(12)!.range(d3.utcHour.offset(START, 12), END);
  const xLabels = d3.range(0, 7, 2).map((d) => d3.utcDay.offset(START, d));
  const fmt = d3.utcFormat("%d-%b");

  return (
    <svg
      width={W}
      height={H}
      style={{ position: "absolute", left: 0, top: 0 }}
      fontFamily={FONT}
      fontSize={12}
      letterSpacing={0.85}
    >
      <rect width={W} height={H} fill="#fff" />
      {PANELS.map((p, i) => {
        const top = PANEL_TOP[i];
        const bottom = top + PANEL_H;
        const y = d3.scaleLog().domain(p.domain).range([bottom, top]);
        return (
          <g key={i}>
            <clipPath id={`clip${i}`}>
              <rect x={LEFT} y={top} width={RIGHT - LEFT} height={PANEL_H} />
            </clipPath>

            {/* data */}
            <g clipPath={`url(#clip${i})`}>
              {p.layers.map((l, k) => (
                <g key={k} fill={l.color}>
                  {l.pts.map((pt, j) => (
                    <rect
                      key={j}
                      x={x(hourDate(pt.hour)) - l.w / 2}
                      y={y(10 ** pt.log) - l.h / 2}
                      width={l.w}
                      height={l.h}
                    />
                  ))}
                </g>
              ))}
            </g>

            {/* frame */}
            <rect x={LEFT} y={top} width={RIGHT - LEFT} height={PANEL_H} fill="none" stroke="#000" strokeWidth={1} />

            {/* y ticks, inward on both sides */}
            <g stroke="#000" strokeWidth={1}>
              {p.major.map((e) => (
                <g key={`M${e}`}>
                  <line x1={LEFT} x2={LEFT + 15} y1={y(10 ** e)} y2={y(10 ** e)} />
                  <line x1={RIGHT} x2={RIGHT - 15} y1={y(10 ** e)} y2={y(10 ** e)} />
                </g>
              ))}
              {p.minor.map((e) => (
                <g key={`m${e}`}>
                  <line x1={LEFT} x2={LEFT + 7.5} y1={y(10 ** e)} y2={y(10 ** e)} />
                  <line x1={RIGHT} x2={RIGHT - 7.5} y1={y(10 ** e)} y2={y(10 ** e)} />
                </g>
              ))}
              {xTicks.map((t) => (
                <g key={+t}>
                  <line x1={x(t)} x2={x(t)} y1={bottom} y2={bottom - 6} />
                  <line x1={x(t)} x2={x(t)} y1={top} y2={top + 6} />
                </g>
              ))}
            </g>

            {/* y tick labels */}
            {p.major.map((e) => (
              <text key={`l${e}`} x={75} y={y(10 ** e) + 5.7} textAnchor="end" fill="#000">
                10
                <tspan dy={-6.8} fontSize={7.5} letterSpacing={0.4}>
                  {e < 0 ? `-${-e}` : `${e}`}
                </tspan>
              </text>
            ))}

            {/* y axis title */}
            <text transform={`translate(37.5,${top + PANEL_H / 2}) rotate(-90)`} textAnchor="middle" fill="#000">
              1/(cm
              <tspan dy={-5} fontSize={8}>
                2
              </tspan>
              <tspan dy={5}>{` s sr ${p.unit}`}</tspan>
            </text>

            {/* legend */}
            {p.legend.map((lg) => (
              <text key={lg.text} x={lg.x} y={top - 6} fill={lg.color}>
                {lg.text}
              </text>
            ))}
          </g>
        );
      })}

      {/* time labels */}
      {xLabels.map((d) => (
        <text key={+d} x={x(d)} y={869.5} textAnchor="middle" fill="#000">
          {fmt(d)}
        </text>
      ))}
      <text x={80} y={885.7} fill="#000">
        STEREO Ahead
      </text>
      <text x={294.3} y={885.7} fill="#000">
        Start: 29-Apr-2017 00:00 UTC
      </text>
    </svg>
  );
}
